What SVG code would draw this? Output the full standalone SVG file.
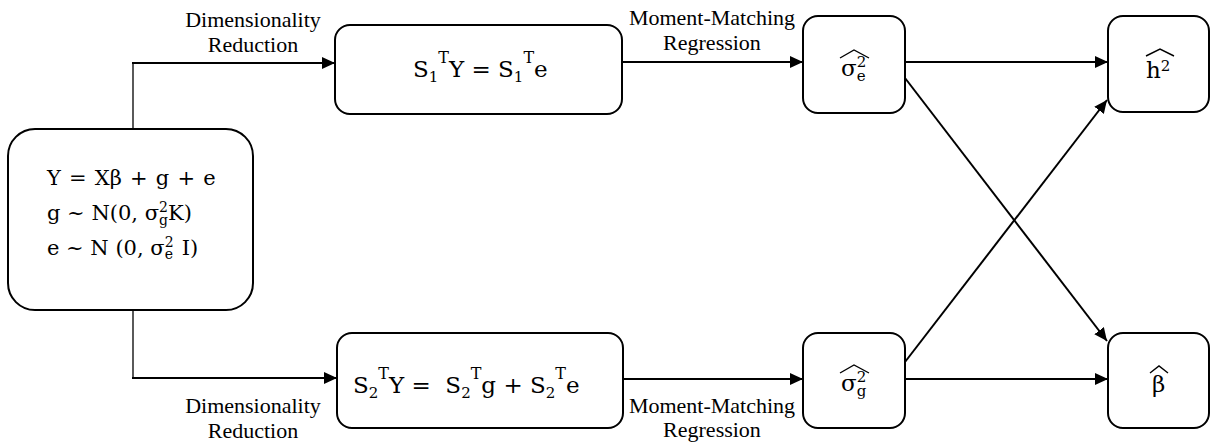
<svg xmlns="http://www.w3.org/2000/svg" width="1212" height="443" viewBox="0 0 1212 443">
<style>
.box{fill:#fff;stroke:#000;stroke-width:2}
.lbl{font-family:"Liberation Serif",serif;font-size:22px;fill:#000;text-anchor:middle}
.m{font-family:"DejaVu Serif",serif;fill:#000}
.c{fill:none;stroke:#000;stroke-width:2}
.thin{fill:none;stroke:#000;stroke-width:1.3}
.hat{fill:none;stroke:#000;stroke-width:1.4;stroke-linejoin:miter}
</style>
<defs>
<marker id="ah" markerUnits="userSpaceOnUse" markerWidth="14" markerHeight="12" refX="13" refY="6" orient="auto">
<path d="M0,0 L13,6 L0,12 z" fill="#000"/>
</marker>
</defs>
<rect width="1212" height="443" fill="#fff"/>

<g id="connectors">
<line class="thin" x1="133" y1="129" x2="133" y2="62"/>
<line class="c" x1="132" y1="63" x2="335" y2="63" marker-end="url(#ah)"/>
<line class="thin" x1="133" y1="310" x2="133" y2="379"/>
<line class="c" x1="132" y1="378" x2="337" y2="378" marker-end="url(#ah)"/>
<line class="c" x1="622" y1="62" x2="803" y2="62" marker-end="url(#ah)"/>
<line class="c" x1="623" y1="379" x2="803" y2="379" marker-end="url(#ah)"/>
<line class="c" x1="905" y1="62" x2="1108" y2="62" marker-end="url(#ah)"/>
<line class="c" x1="905" y1="379" x2="1108" y2="379" marker-end="url(#ah)"/>
<line class="c" x1="905" y1="78" x2="1107" y2="341" marker-end="url(#ah)"/>
<line class="c" x1="905" y1="362" x2="1107" y2="100" marker-end="url(#ah)"/>
<text class="lbl" x="253" y="27">Dimensionality</text>
<text class="lbl" x="253" y="52">Reduction</text>
<text class="lbl" x="253" y="413">Dimensionality</text>
<text class="lbl" x="253" y="438">Reduction</text>
<text class="lbl" x="712" y="25">Moment-Matching</text>
<text class="lbl" x="712" y="50">Regression</text>
<text class="lbl" x="712" y="413">Moment-Matching</text>
<text class="lbl" x="712" y="437">Regression</text>
</g>

<g id="model">
<rect class="box" x="8" y="129" width="245" height="181" rx="27"/>
<text class="m" x="47" y="185" font-size="21" word-spacing="1.5">Y = Xβ + g + e</text>
<text class="m" x="47" y="220" font-size="21">g ~ N(0, σ<tspan font-size="14" dy="-8">2</tspan><tspan font-size="14" dx="-8.9" dy="13">g</tspan><tspan dy="-5">K)</tspan></text>
<text class="m" x="47" y="255" font-size="21" xml:space="preserve">e ~ N (0, σ<tspan font-size="14" dy="-8">2</tspan><tspan font-size="14" dx="-8.9" dy="12">e</tspan><tspan dy="-4" dx="2"> I)</tspan></text>
</g>

<g id="s1">
<rect class="box" x="335" y="25" width="287" height="89" rx="15"/>
<text class="m" x="413" y="77" font-size="23">S<tspan font-size="15" dy="5">1</tspan><tspan font-size="16" dy="-19">T</tspan><tspan dy="14">Y = S</tspan><tspan font-size="15" dy="5">1</tspan><tspan font-size="16" dy="-19">T</tspan><tspan dy="14">e</tspan></text>
</g>

<g id="s2">
<rect class="box" x="337" y="333" width="286" height="95" rx="15"/>
<text class="m" x="353" y="393" font-size="23" xml:space="preserve">S<tspan font-size="15" dy="5">2</tspan><tspan font-size="16" dy="-19">T</tspan><tspan dy="14">Y =  S</tspan><tspan font-size="15" dy="5">2</tspan><tspan font-size="16" dy="-19">T</tspan><tspan dy="14">g + S</tspan><tspan font-size="15" dy="5">2</tspan><tspan font-size="16" dy="-19">T</tspan><tspan dy="14">e</tspan></text>
</g>

<g id="sigma-e">
<rect class="box" x="803" y="16" width="102" height="97" rx="15"/>
<text class="m" x="841" y="76" font-size="23">σ<tspan font-size="15" dy="-9">2</tspan><tspan font-size="15" dx="-9.5" dy="14">e</tspan></text>
<path class="hat" d="M840,58 L854,50 L869,58"/>
</g>

<g id="sigma-g">
<rect class="box" x="803" y="333" width="102" height="95" rx="15"/>
<text class="m" x="841" y="391" font-size="23">σ<tspan font-size="15" dy="-9">2</tspan><tspan font-size="15" dx="-9.5" dy="14">g</tspan></text>
<path class="hat" d="M840,373 L854,365 L869,373"/>
</g>

<g id="h2">
<rect class="box" x="1108" y="16" width="101" height="96" rx="15"/>
<text class="m" x="1146" y="78" font-size="23">h<tspan font-size="15" dy="-7">2</tspan></text>
<path class="hat" d="M1146,56 L1160,49 L1174,56"/>
</g>

<g id="beta">
<rect class="box" x="1108" y="333" width="101" height="95" rx="15"/>
<text class="m" x="1152" y="392" font-size="23">β</text>
<path class="hat" d="M1150,373 L1159,366 L1168,373"/>
</g>
</svg>
